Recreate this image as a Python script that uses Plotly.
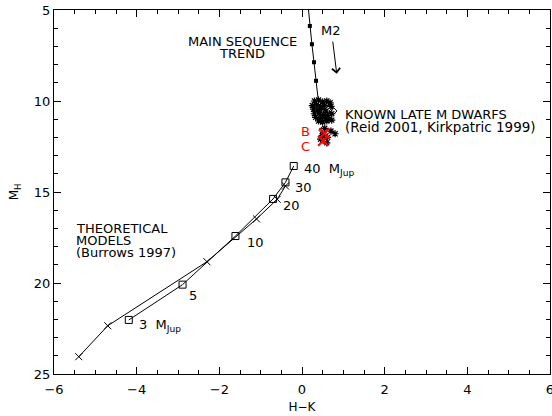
import plotly.graph_objects as go

# Main sequence trend (H-K, M_H)
ms_x = [0.14, 0.19, 0.24, 0.29, 0.34, 0.38, 0.42, 0.46]
ms_y = [4.6, 5.88, 6.88, 7.87, 8.89, 9.89, 10.6, 11.3]
ms_mark_x = [0.19, 0.24, 0.29, 0.34]
ms_mark_y = [5.88, 6.88, 7.87, 8.89]

# Known late M dwarfs (asterisks)
md_x = [0.30, 0.40, 0.50, 0.60, 0.68, 0.25, 0.35, 0.45, 0.55, 0.70,
        0.28, 0.38, 0.48, 0.58, 0.30, 0.42, 0.52, 0.62, 0.72, 0.33,
        0.45, 0.55, 0.65, 0.40, 0.50, 0.60, 0.72, 0.55, 0.70, 0.80,
        0.62, 0.45, 0.60, 0.50]
md_y = [10.00, 9.95, 10.05, 10.00, 10.10, 10.25, 10.20, 10.30, 10.25, 10.30,
        10.45, 10.50, 10.40, 10.55, 10.70, 10.65, 10.75, 10.80, 10.70, 10.90,
        10.95, 10.90, 11.00, 11.10, 11.15, 11.10, 11.05, 11.50, 11.65, 11.80,
        12.00, 12.10, 12.30, 11.90]
# Known late M dwarfs (diamonds)
dm_x = [0.65, 0.75, 0.55, 0.52, 0.52, 0.50]
dm_y = [10.45, 10.55, 10.85, 11.80, 12.15, 11.60]
# Companions B and C
bc_x = [0.54, 0.51]
bc_y = [11.77, 12.18]
bc_labels = ["B", "C"]

# Theoretical models (Burrows 1997): masses (squares)
mass_x = [-0.20, -0.40, -0.70, -1.61, -2.89, -4.19]
mass_y = [13.57, 14.47, 15.38, 17.42, 20.09, 22.03]
mass_labels = ["40  M<sub>Jup</sub>", "30", "20", "10", "5", "3  M<sub>Jup</sub>"]
mass_lab_x = [0.00, -0.22, -0.52, -1.39, -2.78, -3.98]
mass_lab_y = [13.75, 14.76, 15.75, 17.76, 20.70, 22.35]
# Theoretical models: second track (x markers)
trk_x = [-0.40, -0.60, -1.10, -2.30, -4.70, -5.40]
trk_y = [14.67, 15.40, 16.48, 18.83, 22.35, 24.05]

FONT = "DejaVu Sans"

fig = go.Figure()
fig.add_trace(go.Scatter(x=ms_x, y=ms_y, mode="lines",
                         line=dict(color="black", width=1), showlegend=False))
fig.add_trace(go.Scatter(x=ms_mark_x, y=ms_mark_y, mode="markers",
                         marker=dict(symbol="square", size=4, color="black"),
                         showlegend=False))
fig.add_trace(go.Scatter(x=md_x, y=md_y, mode="markers",
                         marker=dict(symbol="asterisk-open", size=6, color="black",
                                     line=dict(color="black", width=1.2)),
                         showlegend=False))
fig.add_trace(go.Scatter(x=dm_x, y=dm_y, mode="markers",
                         marker=dict(symbol="diamond-open", size=6, color="black",
                                     line=dict(color="black", width=1)),
                         showlegend=False))
fig.add_trace(go.Scatter(x=bc_x, y=bc_y, mode="markers",
                         marker=dict(symbol="x-thin-open", size=10, color="red",
                                     line=dict(color="red", width=2)),
                         showlegend=False))
fig.add_trace(go.Scatter(x=mass_x, y=mass_y, mode="lines+markers",
                         line=dict(color="black", width=1),
                         marker=dict(symbol="square-open", size=7, color="black",
                                     line=dict(color="black", width=1)),
                         showlegend=False))
fig.add_trace(go.Scatter(x=trk_x, y=trk_y, mode="lines+markers",
                         line=dict(color="black", width=1),
                         marker=dict(symbol="x-thin-open", size=7, color="black",
                                     line=dict(color="black", width=1)),
                         showlegend=False))

ann = []
for t, x, y in zip(mass_labels, mass_lab_x, mass_lab_y):
    ann.append(dict(x=x, y=y, text=t, xanchor="left", yanchor="middle",
                    showarrow=False, font=dict(family=FONT, size=13, color="black")))
for t, x, y in zip(bc_labels, [0.09, 0.09], [11.68, 12.50]):
    ann.append(dict(x=x, y=y, text=t, xanchor="center", yanchor="middle",
                    showarrow=False, font=dict(family=FONT, size=13, color="red")))

texts = [
    ("MAIN SEQUENCE", -1.45, 6.75, "center", 13),
    ("TREND", -1.45, 7.38, "center", 13),
    ("M2", 0.71, 6.1, "center", 13),
    ("KNOWN LATE M DWARFS", 1.0, 10.75, "left", 13),
    ("(Reid 2001, Kirkpatric 1999)", 1.0, 11.41, "left", 13.5),
    ("THEORETICAL", -5.51, 16.98, "left", 13),
    ("MODELS", -5.51, 17.64, "left", 13),
    ("(Burrows 1997)", -5.51, 18.30, "left", 13),
]
for t, x, y, xa, s in texts:
    ann.append(dict(x=x, y=y, text=t, xanchor=xa, yanchor="middle",
                    showarrow=False, font=dict(family=FONT, size=s, color="black")))

# M2 arrow
ann.append(dict(x=0.84, y=8.5, ax=0.74, ay=6.65, xref="x", yref="y",
                axref="x", ayref="y", text="", showarrow=True,
                arrowhead=4, arrowsize=1.6, arrowwidth=1, arrowcolor="black"))

axis_common = dict(showline=True, linecolor="black", linewidth=1, mirror="allticks",
                   ticks="inside", ticklen=7, tickwidth=1, tickcolor="black",
                   showgrid=False, zeroline=False, ticklabeloverflow="allow",
                   automargin=False,
                   tickfont=dict(family=FONT, size=13, color="black"))

fig.update_xaxes(range=[-6, 6], dtick=2, tick0=-6, ticklabelstandoff=3,
                 minor=dict(dtick=0.5, ticks="inside", ticklen=4, tickcolor="black"),
                 title=dict(text="H−K", font=dict(family=FONT, size=12, color="black"),
                            standoff=7),
                 **axis_common)
fig.update_yaxes(range=[25, 5], dtick=5, tick0=5,
                 minor=dict(dtick=1, ticks="inside", ticklen=4, tickcolor="black"),
                 title=dict(text="M<sub>H</sub>", font=dict(family=FONT, size=12, color="black"),
                            standoff=12),
                 **axis_common)

fig.update_layout(width=552, height=416, margin=dict(l=54, r=2, t=10, b=42),
                  plot_bgcolor="white", paper_bgcolor="white",
                  annotations=ann, showlegend=False)

fig.write_html("out.html", config={"displayModeBar": False},
               post_script="document.body.style.margin='0';document.body.style.padding='0';")
